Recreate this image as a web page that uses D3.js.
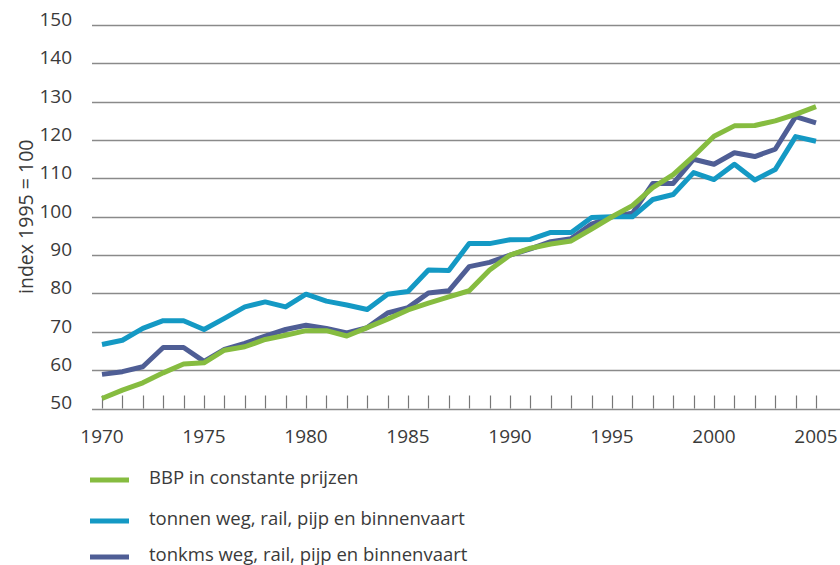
<!DOCTYPE html>
<html>
<head>
<meta charset="utf-8">
<script src="https://cdn.jsdelivr.net/npm/d3@7"></script>
<style>
  body { margin: 0; background: #fff; }
  svg { display: block; font-family: "Open Sans", sans-serif; }
</style>
</head>
<body>
<script>
var years = d3.range(1970, 2006);

var bbp = [52.6, 54.8, 56.7, 59.3, 61.6, 61.9, 65.2, 66.1, 68, 69.1,
  70.3, 70.3, 68.9, 71.1, 73.3, 75.7, 77.5, 79.1, 80.7, 86.1,
  90, 91.8, 92.9, 93.7, 96.8, 100, 102.9, 107.6, 111, 115.8,
  121, 123.7, 123.8, 125, 126.7, 128.7];

var tonnen = [66.7, 67.8, 70.9, 72.9, 72.9, 70.6, 73.5, 76.5, 77.8, 76.5,
  79.8, 78, 77, 75.8, 79.8, 80.5, 86.1, 86, 93, 93,
  94, 94.1, 95.9, 95.9, 99.8, 100, 100, 104.5, 105.8, 111.5,
  109.7, 113.7, 109.6, 112.3, 120.9, 119.7];

var tonkms = [58.9, 59.6, 60.9, 65.9, 65.9, 62.3, 65.4, 67, 68.9, 70.6,
  71.7, 70.9, 69.7, 71.1, 74.9, 76.3, 80.1, 80.7, 87, 88.1,
  90, 91.6, 93.5, 94.3, 98.1, 100, 100.9, 108.7, 108.7, 115,
  113.7, 116.7, 115.7, 117.6, 126.1, 124.5];

var yTicks = [50, 60, 70, 80, 90, 100, 110, 120, 130, 140, 150];
var xLabels = [1970, 1975, 1980, 1985, 1990, 1995, 2000, 2005];

var seriesNames = [
  "BBP in constante prijzen",
  "tonnen weg, rail, pijp en binnenvaart",
  "tonkms weg, rail, pijp en binnenvaart"
];
var seriesColors = ["#86bc40", "#1499c4", "#4f5e95"];
var seriesValues = [bbp, tonnen, tonkms];

var width = 840, height = 565;

var svg = d3.select("body")
  .append("svg")
    .attr("width", width)
    .attr("height", height);

var x = d3.scaleLinear()
  .domain([1970, 2005])
  .range([102, 816]);

var y = d3.scaleLinear()
  .domain([50, 150])
  .range([408.5, 25]);

// gridlines
svg.append("g")
  .selectAll("line")
  .data(yTicks)
  .join("line")
    .attr("x1", 92)
    .attr("x2", width)
    .attr("y1", function(d) { return Math.round(y(d)) + 0.5; })
    .attr("y2", function(d) { return Math.round(y(d)) + 0.5; })
    .attr("stroke", "#8a8a8a")
    .attr("stroke-width", 1.6);

// y tick labels
svg.append("g")
  .selectAll("text")
  .data(yTicks)
  .join("text")
    .attr("x", 72)
    .attr("y", function(d) { return y(d); })
    .attr("dy", "0.05em")
    .attr("text-anchor", "end")
    .attr("font-size", 19)
    .attr("fill", "#3a3a3a")
    .text(function(d) { return d; });

// year ticks (pointing up from the baseline)
svg.append("g")
  .selectAll("line")
  .data(years)
  .join("line")
    .attr("x1", function(d) { return Math.round(x(d)) + 0.5; })
    .attr("x2", function(d) { return Math.round(x(d)) + 0.5; })
    .attr("y1", y(50))
    .attr("y2", y(50) - 13)
    .attr("stroke", "#777")
    .attr("stroke-width", 1.2);

// x labels
svg.append("g")
  .selectAll("text")
  .data(xLabels)
  .join("text")
    .attr("x", function(d) { return x(d); })
    .attr("y", 443)
    .attr("text-anchor", "middle")
    .attr("font-size", 19)
    .attr("fill", "#3a3a3a")
    .text(function(d) { return d; });

// y axis title
svg.append("text")
  .attr("transform", "translate(33," + y(100) + ") rotate(-90)")
  .attr("text-anchor", "middle")
  .attr("font-size", 19.5)
  .attr("fill", "#3a3a3a")
  .text("index 1995 = 100");

var line = d3.line()
  .x(function(d, i) { return x(years[i]); })
  .y(function(d) { return y(d); });

// draw tonkms first, then tonnen, then BBP on top
[2, 1, 0].forEach(function(k) {
  svg.append("path")
    .datum(seriesValues[k])
    .attr("d", line)
    .attr("fill", "none")
    .attr("stroke", seriesColors[k])
    .attr("stroke-width", 5)
    .attr("stroke-linejoin", "round");
});

// legend
var legendY = [480, 521, 557];
var legend = svg.append("g")
  .selectAll("g")
  .data(seriesNames)
  .join("g")
    .attr("transform", function(d, i) { return "translate(90," + legendY[i] + ")"; });

legend.append("line")
  .attr("x1", 0)
  .attr("x2", 39)
  .attr("stroke", function(d, i) { return seriesColors[i]; })
  .attr("stroke-width", 5);

legend.append("text")
  .attr("x", 59)
  .attr("y", 4)
  .attr("font-size", 18.5)
  .attr("fill", "#3a3a3a")
  .text(function(d) { return d; });
</script>
</body>
</html>
